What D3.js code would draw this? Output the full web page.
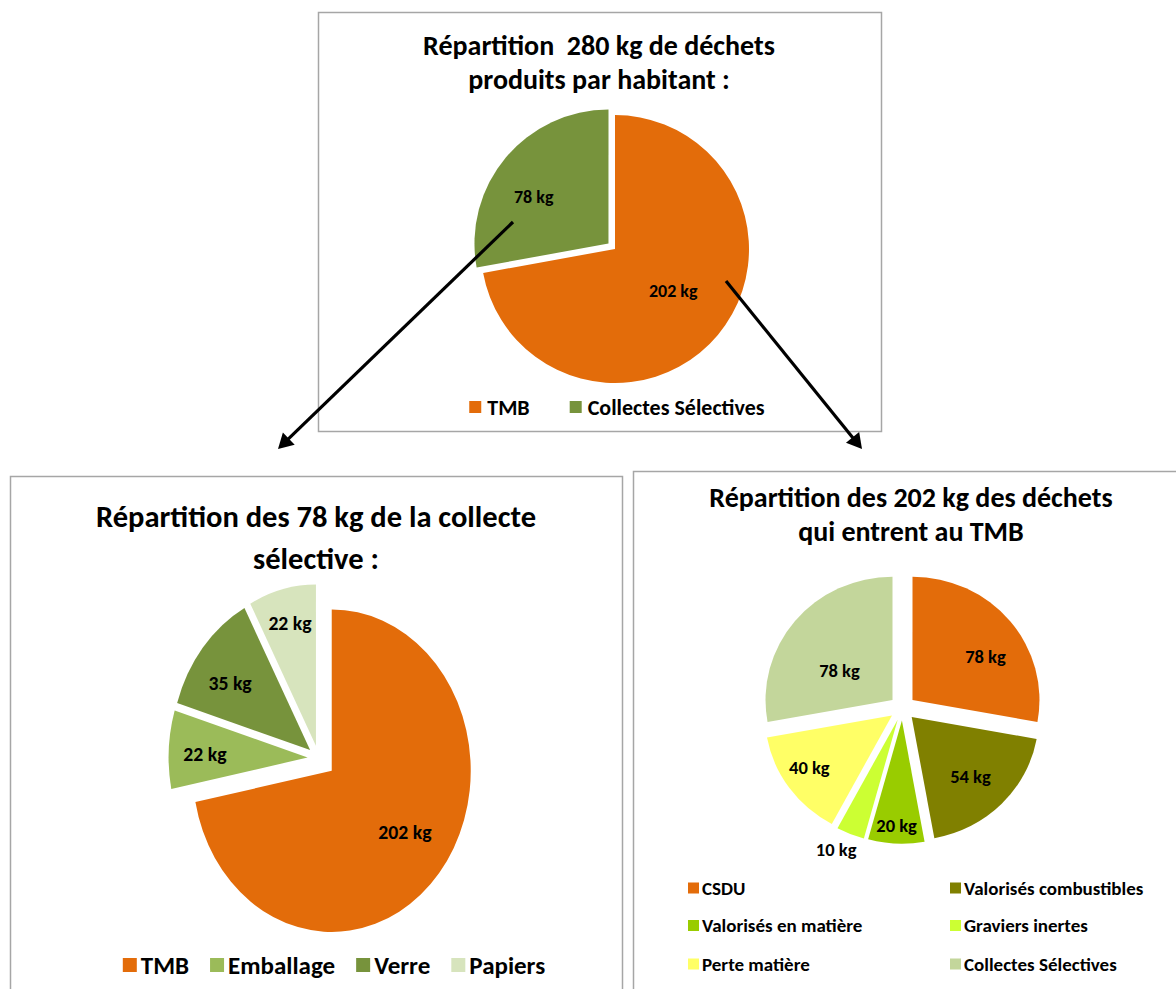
<!DOCTYPE html>
<html>
<head>
<meta charset="utf-8">
<script src="https://cdn.jsdelivr.net/npm/d3@7"></script>
<style>
  body { margin: 0; background: #fff; }
  svg { display: block; }
  text { font-family: Carlito, Calibri, Lato, sans-serif; font-weight: bold; fill: #000; white-space: pre; }
</style>
</head>
<body>
<div id="chart"></div>
<script>
// data
const topTitle = ["Répartition  280 kg de déchets", "produits par habitant :"];
const topNames = ["TMB", "Collectes Sélectives"];
const topValues = [202, 78];

const leftTitle = ["Répartition des 78 kg de la collecte", "sélective :"];
const leftNames = ["TMB", "Emballage", "Verre", "Papiers"];
const leftValues = [202, 22, 35, 22];

const rightTitle = ["Répartition des 202 kg des déchets", "qui entrent au TMB"];
const rightNames = ["CSDU", "Valorisés combustibles", "Valorisés en matière", "Graviers inertes", "Perte matière", "Collectes Sélectives"];
const rightValues = [78, 54, 20, 10, 40, 78];

// colours
const topColors = ["#e36c0a", "#77933c"];
const leftColors = ["#e36c0a", "#9bbb59", "#77933c", "#d7e4bd"];
const rightColors = ["#e36c0a", "#808000", "#99cc00", "#ccff33", "#ffff66", "#c3d69b"];

const width = 1176, height = 989;

const svg = d3.select("#chart").append("svg")
  .attr("width", width)
  .attr("height", height);

// chart layouts (box, title, pie, labels, legend)
const charts = [
  {
    box: [318, 12, 563, 419],
    title: topTitle, titleSize: 28, titleX: 599, titleY: [55, 89],
    names: topNames, values: topValues, colors: topColors,
    cx: 615, cy: 249, r: 134, sy: 1,
    explode: [0, 8.5],
    spots: [[0.484, 0.535], [0.42, 0.657]],
    labelSize: 18,
    legend: { type: "row", y: 407, size: 22, box: 12, pad: 6, gap: 40, cx: 617 }
  },
  {
    box: [10, 476, 612, 560],
    title: leftTitle, titleSize: 30.5, titleX: 316, titleY: [527, 569],
    names: leftNames, values: leftValues, colors: leftColors,
    cx: 318.6, cy: 758.2, r: 139, sy: 1.16,
    explode: [17, 11, 11, 11],
    spots: [[0.486, 0.649], [0.46, 0.739], [0.42, 0.71], [0.51, 0.782]],
    labelSize: 19.7,
    legend: { type: "row", y: 965, size: 25, box: 14, pad: 4, gap: 21, cx: 334 }
  },
  {
    box: [633, 471, 560, 560],
    title: rightTitle, titleSize: 28, titleX: 911, titleY: [507, 541],
    names: rightNames, values: rightValues, colors: rightColors,
    cx: 902.5, cy: 708, r: 127, sy: 0.97,
    explode: [13, 13, 13, 13, 13, 13],
    spots: [[0.582, 0.675], [0.517, 0.668], [0.51, 0.85], [0.72, 1.16], [0.556, 0.777], [0.397, 0.48]],
    labelSize: 18.5,
    legend: { type: "grid", x: [688, 950], y: [888, 925.5, 964], size: 19, box: 11, pad: 3 }
  }
];

charts.forEach(c => drawChart(c));
drawArrows();

function drawChart(c) {
  const g = svg.append("g");

  g.append("rect")
    .attr("x", c.box[0] + 0.5)
    .attr("y", c.box[1] + 0.5)
    .attr("width", c.box[2])
    .attr("height", c.box[3])
    .attr("fill", "#fff")
    .attr("stroke", "#a6a6a6")
    .attr("stroke-width", 1.5);

  g.append("g")
    .selectAll("text")
    .data(c.title)
    .join("text")
    .attr("x", c.titleX)
    .attr("y", (d, i) => c.titleY[i])
    .attr("text-anchor", "middle")
    .style("font-size", c.titleSize + "px")
    .text(d => d);

  const pie = d3.pie().sort(null).value(d => d.value);
  const arcs = pie(c.names.map((n, i) => ({ name: n, value: c.values[i], i })));
  const arc = d3.arc().innerRadius(0).outerRadius(c.r);

  // corner of each slice once pulled out along its bisector
  const corner = (d) => {
    const a = (d.startAngle + d.endAngle) / 2;
    const e = c.explode[d.index];
    return [c.cx + e * Math.sin(a), c.cy - e * Math.cos(a) * c.sy];
  };

  g.append("g")
    .selectAll("path")
    .data(arcs)
    .join("path")
    .attr("transform", d => {
      const p = corner(d);
      return `translate(${p[0]},${p[1]}) scale(1,${c.sy})`;
    })
    .attr("fill", d => c.colors[d.index])
    .attr("d", arc);

  g.append("g")
    .selectAll("text")
    .data(arcs)
    .join("text")
    .attr("transform", d => {
      const p = corner(d);
      const s = c.spots[d.index];
      const a = d.startAngle + s[0] * (d.endAngle - d.startAngle);
      const x = p[0] + s[1] * c.r * Math.sin(a);
      const y = p[1] - s[1] * c.r * Math.cos(a) * c.sy;
      return `translate(${x},${y})`;
    })
    .attr("text-anchor", "middle")
    .attr("dy", "0.35em")
    .style("font-size", c.labelSize + "px")
    .text(d => d.data.value + " kg");

  drawLegend(g, c);
}

function drawLegend(g, c) {
  const L = c.legend;
  const lg = g.append("g");
  const items = lg.selectAll("g")
    .data(c.names)
    .join("g");

  items.append("rect")
    .attr("width", L.box)
    .attr("height", L.box)
    .attr("y", -L.box / 2)
    .attr("fill", (d, i) => c.colors[i]);

  items.append("text")
    .attr("x", L.box + L.pad)
    .attr("dy", "0.35em")
    .style("font-size", L.size + "px")
    .text(d => d);

  if (L.type === "row") {
    const widths = [];
    items.each(function () {
      widths.push(this.getBBox().width);
    });
    const total = d3.sum(widths) + L.gap * (widths.length - 1);
    let x = L.cx - total / 2;
    items.attr("transform", (d, i) => {
      const t = `translate(${x},${L.y})`;
      x += widths[i] + L.gap;
      return t;
    });
  } else {
    items.attr("transform", (d, i) =>
      `translate(${L.x[i % 2]},${L.y[Math.floor(i / 2)]})`);
  }
}

function drawArrows() {
  const arrows = [
    [[513, 222], [278, 449]],
    [[726, 281], [862, 449]]
  ];
  const head = 15, half = 8.5;
  arrows.forEach(([a, b]) => {
    const dx = b[0] - a[0], dy = b[1] - a[1];
    const len = Math.hypot(dx, dy);
    const ux = dx / len, uy = dy / len;
    const bx = b[0] - ux * head, by = b[1] - uy * head;
    svg.append("line")
      .attr("x1", a[0]).attr("y1", a[1])
      .attr("x2", bx + ux * 2).attr("y2", by + uy * 2)
      .attr("stroke", "#000")
      .attr("stroke-width", 3.2);
    svg.append("path")
      .attr("d", d3.line()([
        [b[0], b[1]],
        [bx - uy * half, by + ux * half],
        [bx + uy * half, by - ux * half]
      ]) + "Z")
      .attr("fill", "#000");
  });
}
</script>
</body>
</html>
